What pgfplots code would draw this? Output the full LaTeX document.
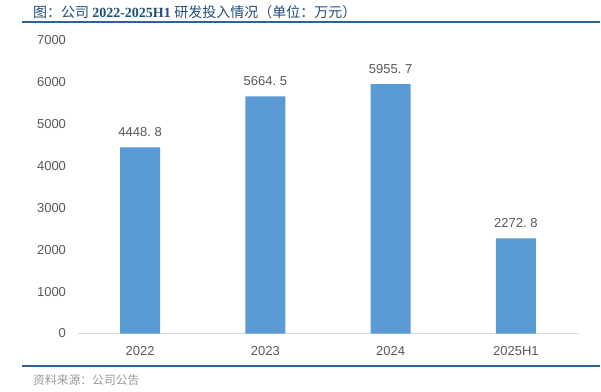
\documentclass[border=0pt]{standalone}
\usepackage{pgfplots}
\pgfplotsset{compat=1.18}
\usepackage{fontspec}
\setmainfont{Liberation Sans}
\newfontfamily\cjk{Noto Sans CJK SC}
\newfontfamily\titlenum{Liberation Serif}
\definecolor{barblue}{HTML}{5B9BD5}
\definecolor{titleblue}{HTML}{1F4E79}
\definecolor{lineblue}{HTML}{2A64A0}
\definecolor{ticktext}{HTML}{595959}
\begin{document}
\begin{tikzpicture}
\useasboundingbox[fill=white] (0pt,0pt) rectangle (601pt,391pt);
% title
\node[anchor=west, inner sep=0pt, text=titleblue, font=\fontsize{14}{16}\selectfont] at (33pt,379pt) {\cjk 图：公司 \titlenum\bfseries 2022-2025H1 \cjk\mdseries 研发投入情况（单位：万元）};
\draw[lineblue, line width=2pt] (22pt,368.5pt) -- (600pt,368.5pt);
\draw[lineblue, line width=2pt] (22pt,25pt) -- (600pt,25pt);
\node[anchor=west, inner sep=0pt, text=gray!80, font=\fontsize{11.8}{13}\selectfont\cjk] at (33pt,11pt) {资料来源：公司公告};
\begin{axis}[
  at={(77.5pt,57.5pt)}, anchor=south west,
  scale only axis, width=501pt, height=293pt,
  xmin=-0.5, xmax=3.5, ymin=0, ymax=7000,
  ytick={0,1000,...,7000},
  xtick={0,1,2,3}, xticklabels={2022,2023,2024,2025H1},
  axis y line=none,
  axis x line*=bottom,
  x axis line style={draw=black!15, line width=1pt, -},
  major tick length=0pt,
  ticklabel style={font=\fontsize{13}{15}\selectfont, text=ticktext},
  xticklabel style={yshift=-9.5pt},
  /pgf/number format/assume math mode=true,
  /pgf/number format/1000 sep={},
  ybar, bar width=40pt,
  nodes near coords,
  point meta=explicit symbolic,
  every node near coord/.append style={font=\fontsize{13}{15}\selectfont, text=ticktext, yshift=7pt},
  clip=false,
]
\addplot[fill=barblue, draw=none] table[meta=label] {
x y label
0 4448.8 {4448.\ 8}
1 5664.5 {5664.\ 5}
2 5955.7 {5955.\ 7}
3 2272.8 {2272.\ 8}
};
\end{axis}
\begin{axis}[
  at={(77.5pt,57.5pt)}, anchor=south west,
  scale only axis, width=501pt, height=293pt,
  xmin=-0.5, xmax=3.5, ymin=0, ymax=7000,
  ytick={0,1000,...,7000},
  axis x line=none,
  axis y line*=left,
  y axis line style={draw=none},
  major tick length=0pt,
  yticklabel style={font=\fontsize{13}{15}\selectfont, text=ticktext, xshift=-8pt},
  /pgf/number format/assume math mode=true,
  /pgf/number format/1000 sep={},
]
\addplot[draw=none] coordinates {(0,0)};
\end{axis}
\end{tikzpicture}
\end{document}
